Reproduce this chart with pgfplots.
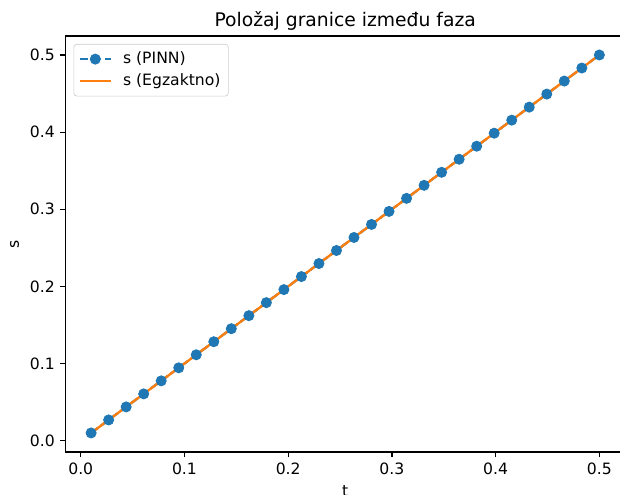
\documentclass[border=0pt]{standalone}
\usepackage{pgfplots}
\pgfplotsset{compat=1.18}
\usepackage{fontspec}
\setmainfont{DejaVu Sans}

\definecolor{tabblue}{RGB}{31,119,180}
\definecolor{taborange}{RGB}{255,127,14}

\pgfplotstableread{
t s
0.010000 0.010000
0.026897 0.026897
0.043793 0.043793
0.060690 0.060690
0.077586 0.077586
0.094483 0.094483
0.111379 0.111379
0.128276 0.128276
0.145172 0.145172
0.162069 0.162069
0.178966 0.178966
0.195862 0.195862
0.212759 0.212759
0.229655 0.229655
0.246552 0.246552
0.263448 0.263448
0.280345 0.280345
0.297241 0.297241
0.314138 0.314138
0.331034 0.331034
0.347931 0.347931
0.364828 0.364828
0.381724 0.381724
0.398621 0.398621
0.415517 0.415517
0.432414 0.432414
0.449310 0.449310
0.466207 0.466207
0.483103 0.483103
0.500000 0.500000
}\boundary

\begin{document}
\begin{tikzpicture}
\useasboundingbox (-42.05pt,-27.58pt) rectangle (354.75pt,289.2pt);
\clip (-42.05pt,-27.58pt) rectangle (354.75pt,289.2pt);
\begin{axis}[
  at={(0,0)}, anchor=south west,
  scale only axis, width=357.8pt, height=266.1pt,
  xmin=-0.0145, xmax=0.5245, ymin=-0.0145, ymax=0.5245,
  xtick={0,0.1,0.2,0.3,0.4,0.5},
  ytick={0,0.1,0.2,0.3,0.4,0.5},
  xticklabel style={/pgf/number format/.cd, fixed, fixed zerofill, precision=1},
  yticklabel style={/pgf/number format/.cd, fixed, fixed zerofill, precision=1},
  /pgf/number format/assume math mode=true,
  ticklabel style={font=\fontsize{10}{12}\selectfont},
  tick align=outside, major tick length=3.5pt,
  xtick pos=bottom, ytick pos=left,
  tick style={black, line width=0.8pt},
  axis line style={line width=0.8pt},
  title={Položaj granice između faza},
  title style={font=\fontsize{12}{14}\selectfont, yshift=-6pt},
  xlabel={t}, ylabel={s},
  label style={font=\fontsize{10}{12}\selectfont},
  legend cell align=left,
  legend image code/.code={\draw[mark repeat=2, mark phase=2] plot coordinates {(0pt,0pt) (10pt,0pt) (20pt,0pt)};},
  legend style={at={(0,1)}, anchor=north west, xshift=5pt, yshift=-5pt,
    draw=black!20, rounded corners=2pt, fill=white,
    font=\fontsize{10}{12}\selectfont, row sep=1pt, inner sep=3pt,
    /tikz/every odd column/.append style={column sep=5pt}},
]
\addplot[color=tabblue, line width=1.5pt, dash pattern=on 5.55pt off 2.4pt,
  mark=*, mark size=3.2pt, mark options={solid, fill=tabblue, draw=tabblue, line width=0.6pt}]
  table[x=t, y=s] {\boundary};
\addlegendentry{s (PINN)}
\addplot[color=taborange, line width=1.5pt] table[x=t, y=s] {\boundary};
\addlegendentry{s (Egzaktno)}
\end{axis}
\end{tikzpicture}
\end{document}
